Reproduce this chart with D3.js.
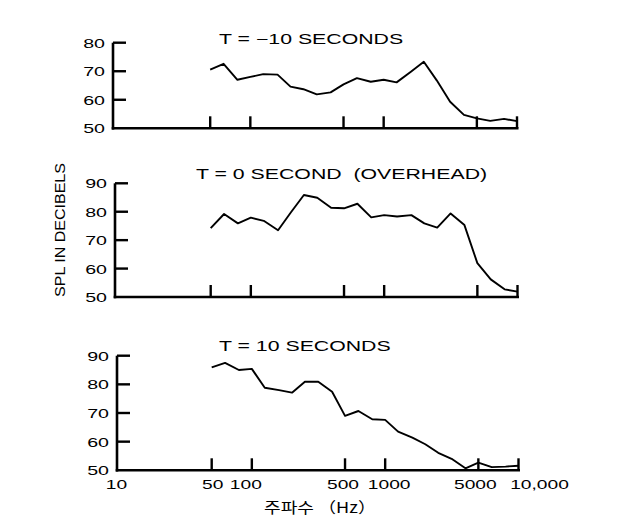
<!DOCTYPE html>
<html><head><meta charset="utf-8">
<script src="https://cdn.jsdelivr.net/npm/d3@7"></script>
<style>
html,body{margin:0;padding:0;background:#fff;}
svg text{font-family:"Liberation Sans",Arial,sans-serif;fill:#000;white-space:pre;}
</style></head>
<body><svg id="c" width="632" height="527"></svg>
<script>
// ---- data ----
const freqs = [50,63,80,100,125,160,200,250,315,400,500,630,800,1000,1250,1600,2000,2500,3150,4000,5000,6300,8000,10000];
const splMinus10 = [70.6,72.6,67.0,68.0,69.0,68.8,64.6,63.7,61.9,62.6,65.4,67.6,66.3,67.0,66.1,69.8,73.3,66.8,59.3,54.7,53.5,52.6,53.3,52.5];
const splZero    = [74.2,79.2,75.9,77.9,76.8,73.5,79.8,85.9,84.9,81.4,81.2,82.8,78.0,78.8,78.3,78.8,75.9,74.4,79.4,75.3,61.9,56.2,52.7,51.9];
const splPlus10  = [85.9,87.5,85.0,85.4,78.8,78.0,77.1,80.9,80.9,77.4,69.0,70.7,67.8,67.6,63.5,61.4,59.1,56.1,54.0,50.7,52.7,51.1,51.3,51.6];
const panelTitles = ["T = \u221210 SECONDS","T = 0 SECOND  (OVERHEAD)","T = 10 SECONDS"];
const yDomains = [[50,80],[50,90],[50,90]];
const yTickValues = [[50,60,70,80],[50,60,70,80,90],[50,60,70,80,90]];
const xTickValues = [50,100,500,1000,5000,10000];
const xLabelValues = [10,50,100,500,1000,5000,10000];
const xLabelTexts = ["10","50","100","500","1000","5000","10,000"];
const yAxisTitle = "SPL IN DECIBELS";
const xAxisTitle = "\uC8FC\uD30C\uC218 \uFF08Hz\uFF09";

// ---- layout ----
const svg = d3.select("#c");
const x = d3.scaleLog().domain([10,10000]).range([117.5,517.5]);
const panels = [
  {series:splMinus10, yr:[128.3,42.7], ax:113, dx:-0.5, ty:44},
  {series:splZero,    yr:[297,183.3],  ax:115, dx:0,    ty:179},
  {series:splPlus10,  yr:[470.3,355.7],ax:117, dx:1,    ty:351}
];
const stretch = (sel, f) => sel.each(function(){
  const L = this.getComputedTextLength();
  d3.select(this).attr("textLength", L*f).attr("lengthAdjust","spacingAndGlyphs");
});
const fitTo = (sel, w) => sel.attr("textLength", w).attr("lengthAdjust","spacingAndGlyphs");

panels.forEach((p,i)=>{
  const y = d3.scaleLinear().domain(yDomains[i]).range(p.yr);
  const g = svg.append("g");
  const xs = v => x(v)+p.dx;
  // y axis line
  g.append("line").attr("x1",p.ax).attr("x2",p.ax)
    .attr("y1",y(yDomains[i][0])+1.3).attr("y2",y(yDomains[i][1]))
    .attr("stroke","#000").attr("stroke-width",2.6);
  // x baseline
  g.append("line").attr("x1",p.ax-1.3).attr("x2",xs(10000)+1.5)
    .attr("y1",y(yDomains[i][0])).attr("y2",y(yDomains[i][0]))
    .attr("stroke","#000").attr("stroke-width",2.6);
  // y ticks (inward)
  g.selectAll(".yt").data(yTickValues[i].slice(1)).join("line")
    .attr("x1",p.ax).attr("x2",p.ax+13).attr("y1",d=>y(d)).attr("y2",d=>y(d))
    .attr("stroke","#000").attr("stroke-width",2.4);
  // y tick labels
  g.selectAll(".yl").data(yTickValues[i]).join("text")
    .attr("x",p.ax-8).attr("y",d=>y(d)+5).attr("text-anchor","end")
    .attr("font-size",13.5).text(d=>d).call(stretch,1.45);
  // x ticks (upward)
  g.selectAll(".xt").data(xTickValues).join("line")
    .attr("x1",d=>xs(d)).attr("x2",d=>xs(d))
    .attr("y1",y(yDomains[i][0])).attr("y2",y(yDomains[i][0])-12)
    .attr("stroke","#000").attr("stroke-width",2.4);
  // data line
  const line = d3.line().x((d,k)=>xs(freqs[k])).y(d=>y(d)).curve(d3.curveLinear);
  g.append("path").datum(p.series).attr("d",line)
    .attr("fill","none").attr("stroke","#000").attr("stroke-width",1.9)
    .attr("stroke-linejoin","round");
  // title
  g.append("text").attr("x",(i===1?196:219)).attr("y",p.ty)
    .attr("font-size",14).text(panelTitles[i]).call(stretch,1.52);
  if(i===2){
    const nudge = {10:-2,50:1,100:-6,500:-2,1000:4,5000:-3,10000:21};
    g.selectAll(".xl").data(xLabelValues).join("text")
      .attr("x",d=>xs(d)+nudge[d]).attr("y",489).attr("text-anchor","middle")
      .attr("font-size",13.5).text((d,k)=>xLabelTexts[k]).call(stretch,1.42);
  }
});

// y axis title
svg.append("text").attr("transform","translate(65,230) rotate(-90)")
  .attr("text-anchor","middle").attr("font-size",14).text(yAxisTitle).call(fitTo,134);
// x axis title
svg.append("text").attr("x",320).attr("y",513).attr("text-anchor","middle")
  .style("font-family","'Noto Sans CJK KR',sans-serif").attr("font-size",15)
  .text(xAxisTitle).call(fitTo,112);
</script></body></html>
